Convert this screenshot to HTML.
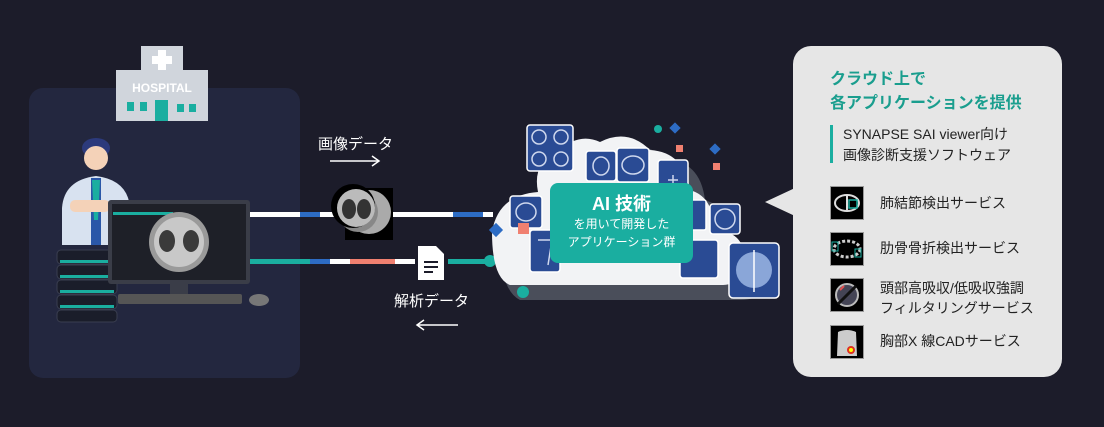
<!DOCTYPE html>
<html><head><meta charset="utf-8"><style>
body{margin:0;width:1104px;height:427px;background:#1c1c2a;overflow:hidden;position:relative;font-family:"Liberation Sans","Noto Sans CJK JP",sans-serif}
.a{position:absolute}
.t{color:#fff;font-size:15px;white-space:nowrap}
.li{position:absolute;left:880px;color:#222;font-size:14px;line-height:20px;white-space:nowrap}
</style></head><body>
<div class="a" style="left:29px;top:88px;width:271px;height:290px;background:#23273f;border-radius:14px"></div>
<svg class="a" style="left:0;top:0" width="1104" height="427">
<!-- hospital -->
<rect x="141" y="46" width="42" height="30" fill="#d0d5dc"/>
<rect x="116" y="70" width="92" height="51" fill="#d0d5dc"/>
<rect x="158" y="50" width="8" height="20" fill="#fff"/><rect x="152" y="56" width="20" height="8" fill="#fff"/>
<text x="162" y="92" font-size="12" font-weight="bold" fill="#fff" text-anchor="middle" font-family="Liberation Sans">HOSPITAL</text>
<rect x="127" y="102" width="7" height="9" fill="#1aaea0"/><rect x="140" y="102" width="7" height="9" fill="#1aaea0"/>
<rect x="155" y="100" width="13" height="21" fill="#1aaea0"/>
<rect x="177" y="104" width="7" height="8" fill="#1aaea0"/><rect x="189" y="104" width="7" height="8" fill="#1aaea0"/>
<!-- doctor -->
<ellipse cx="96" cy="148" rx="14" ry="10" fill="#2c3a7c"/>
<circle cx="96" cy="158" r="12" fill="#f4d2b8"/>
<path d="M62 208 Q64 180 96 176 Q128 180 130 208 L130 245 L62 245 Z" fill="#d8e2f0"/>
<rect x="91" y="178" width="10" height="67" fill="#2a57a8"/>
<path d="M92 180 L100 180 L98 220 L94 220 Z" fill="#1aaea0"/>
<rect x="70" y="200" width="40" height="12" rx="5" fill="#f4d2b8"/>
<!-- server -->
<g fill="#1a1d2a" stroke="#3a3e50">
<rect x="57" y="250" width="60" height="14" rx="4"/><rect x="57" y="265" width="60" height="14" rx="4"/>
<rect x="57" y="280" width="60" height="14" rx="4"/><rect x="57" y="295" width="60" height="14" rx="4"/><rect x="57" y="310" width="60" height="12" rx="4"/>
</g>
<g fill="#1aaea0"><rect x="60" y="260" width="54" height="3"/><rect x="60" y="275" width="54" height="3"/><rect x="60" y="290" width="54" height="3"/><rect x="60" y="305" width="54" height="3"/></g>
<!-- monitor -->
<rect x="108" y="200" width="142" height="84" rx="3" fill="#3a3d48"/>
<rect x="112" y="204" width="134" height="76" fill="#1e2028"/>
<rect x="113" y="212" width="60" height="3" fill="#1aaea0"/>
<circle cx="179" cy="242" r="30" fill="#9a9a9a"/><circle cx="179" cy="242" r="25" fill="#c8c8c8"/>
<ellipse cx="167" cy="241" rx="8" ry="11" fill="#3a3a3a"/><ellipse cx="191" cy="241" rx="8" ry="11" fill="#3a3a3a"/>
<rect x="170" y="284" width="18" height="10" fill="#3a3d48"/>
<rect x="118" y="294" width="124" height="10" rx="2" fill="#555"/>
<ellipse cx="259" cy="300" rx="10" ry="6" fill="#777"/>
<!-- lines -->
<rect x="250" y="212" width="50" height="5" fill="#fff"/><rect x="300" y="212" width="20" height="5" fill="#2d6cc4"/><rect x="320" y="212" width="15" height="5" fill="#fff"/>
<rect x="393" y="212" width="60" height="5" fill="#fff"/><rect x="453" y="212" width="30" height="5" fill="#2d6cc4"/><rect x="483" y="212" width="10" height="5" fill="#fff"/>
<rect x="250" y="259" width="60" height="5" fill="#1aaea0"/><rect x="310" y="259" width="20" height="5" fill="#2d6cc4"/><rect x="330" y="259" width="20" height="5" fill="#fff"/><rect x="350" y="259" width="45" height="5" fill="#f08070"/>
<rect x="395" y="259" width="20" height="5" fill="#fff"/><rect x="448" y="259" width="40" height="5" fill="#1aaea0"/>
<circle cx="490" cy="261" r="6" fill="#1aaea0"/>
<!-- CT images -->
<rect x="345" y="188" width="48" height="52" fill="#000"/>
<circle cx="369" cy="212" r="22" fill="#aaa"/><circle cx="358" cy="212" r="20" fill="#888"/>
<circle cx="353" cy="206" r="22" fill="#000"/><circle cx="356" cy="208" r="19" fill="#bbb"/>
<ellipse cx="349" cy="209" rx="7" ry="10" fill="#333"/><ellipse cx="364" cy="209" rx="7" ry="10" fill="#333"/>
<!-- arrows -->
<line x1="330" y1="161" x2="378" y2="161" stroke="#fff" stroke-width="1.5"/><path d="M372 156 L379 161 L372 166" stroke="#fff" fill="none" stroke-width="1.5"/>
<line x1="418" y1="325" x2="458" y2="325" stroke="#fff" stroke-width="1.5"/><path d="M424 320 L417 325 L424 330" stroke="#fff" fill="none" stroke-width="1.5"/>
<!-- doc -->
<path d="M418 246 L436 246 L444 254 L444 280 L418 280 Z" fill="#fff"/>
<rect x="424" y="261" width="14" height="2" fill="#1c1c2a"/><rect x="424" y="266" width="14" height="2" fill="#1c1c2a"/><rect x="424" y="271" width="9" height="2" fill="#1c1c2a"/>
<!-- cloud -->
<path d="M520 300 L740 300 Q770 300 765 270 Q760 240 730 245 Q735 210 705 200 Q700 160 665 160 Q640 135 610 150 Q585 140 565 160 Q540 170 545 200 Q505 200 500 240 Q500 290 520 300 Z" fill="#4a4e5a"/>
<path d="M510 285 L720 285 Q750 285 745 255 Q740 228 712 232 Q716 198 690 190 Q684 152 650 150 Q628 128 600 142 Q578 132 558 152 Q532 162 538 192 Q498 195 492 232 Q492 278 510 285 Z" fill="#f2f3f5"/>
<g fill="#2a4b94" stroke="#fff" stroke-width="1.5">
<rect x="527" y="125" width="46" height="46" rx="3"/><rect x="586" y="151" width="30" height="30" rx="3"/><rect x="617" y="148" width="32" height="34" rx="3"/><rect x="658" y="160" width="30" height="32" rx="3"/>
<rect x="510" y="196" width="32" height="32" rx="3"/><rect x="530" y="230" width="30" height="42" rx="3"/><rect x="710" y="204" width="30" height="30" rx="3"/><rect x="690" y="200" width="16" height="30" rx="2"/>
<rect x="680" y="240" width="38" height="38" rx="3"/><rect x="729" y="243" width="50" height="55" rx="4"/>
</g>
<g stroke="#cfd8ee" stroke-width="1.5" fill="none">
<circle cx="539" cy="137" r="7"/><circle cx="561" cy="137" r="7"/><circle cx="539" cy="159" r="7"/><circle cx="561" cy="159" r="7"/>
<path d="M668 180 L678 180 M673 175 L673 186"/>
<ellipse cx="601" cy="166" rx="8" ry="9"/><ellipse cx="633" cy="165" rx="11" ry="9"/><ellipse cx="526" cy="212" rx="10" ry="9"/><ellipse cx="725" cy="219" rx="10" ry="10"/><path d="M538 240 L552 240 L548 265"/>
</g>
<circle cx="754" cy="270" r="18" fill="#8aa6d8"/><line x1="754" y1="250" x2="754" y2="292" stroke="#fff" stroke-width="1.5"/>
<rect x="550" y="183" width="143" height="80" rx="8" fill="#1aaea0"/>
<circle cx="658" cy="129" r="4" fill="#1aaea0"/><rect x="671" y="124" width="8" height="8" fill="#2d6cc4" transform="rotate(45 675 128)"/>
<rect x="676" y="145" width="7" height="7" fill="#f08070"/><rect x="711" y="145" width="8" height="8" fill="#2d6cc4" transform="rotate(45 715 149)"/>
<rect x="713" y="163" width="7" height="7" fill="#f08070"/><rect x="518" y="223" width="11" height="11" fill="#f08070"/>
<rect x="491" y="225" width="10" height="10" fill="#2d6cc4" transform="rotate(45 496 230)"/>
<circle cx="523" cy="292" r="6" fill="#1aaea0"/>
</svg>
<div class="a t" style="left:318px;top:133px">画像データ</div>
<div class="a t" style="left:394px;top:290px">解析データ</div>
<div class="a" style="left:550px;top:190px;width:143px;text-align:center;color:#fff;font-size:18px;font-weight:bold">AI 技術</div>
<div class="a" style="left:550px;top:215px;width:143px;text-align:center;color:#fff;font-size:12px;line-height:18px">を用いて開発した<br>アプリケーション群</div>
<!-- right panel -->
<div class="a" style="left:765px;top:188px;width:0;height:0;border-top:14px solid transparent;border-bottom:14px solid transparent;border-right:30px solid #e6e6e6"></div>
<div class="a" style="left:793px;top:46px;width:269px;height:331px;background:#e6e6e6;border-radius:18px"></div>
<div class="a" style="left:830px;top:68px;color:#1a9e8e;font-size:16px;font-weight:bold;line-height:24px;white-space:nowrap">クラウド上で<br>各アプリケーションを提供</div>
<div class="a" style="left:830px;top:125px;width:3px;height:38px;background:#1aaea0"></div>
<div class="a" style="left:843px;top:124px;color:#222;font-size:14px;line-height:21px;white-space:nowrap">SYNAPSE SAI viewer向け<br>画像診断支援ソフトウェア</div>
<svg class="a" style="left:830px;top:186px" width="34" height="174">
<g fill="#000" stroke="#999"><rect x="0.5" y="0.5" width="33" height="33"/><rect x="0.5" y="46.5" width="33" height="33"/><rect x="0.5" y="92.5" width="33" height="33"/><rect x="0.5" y="139.5" width="33" height="33"/></g>
<ellipse cx="17" cy="17" rx="12" ry="8" fill="none" stroke="#ddd" stroke-width="2"/><line x1="17" y1="9" x2="17" y2="25" stroke="#ddd" stroke-width="2"/><rect x="19" y="14" width="8" height="8" fill="none" stroke="#1aaea0" stroke-width="1.5"/>
<ellipse cx="17" cy="63" rx="13" ry="8" fill="none" stroke="#ccc" stroke-width="3" stroke-dasharray="3 2"/><rect x="2" y="56" width="6" height="9" fill="none" stroke="#1aaea0"/><rect x="25" y="63" width="6" height="8" fill="none" stroke="#1aaea0"/>
<circle cx="17" cy="109" r="11" fill="#445" stroke="#bbb" stroke-width="2"/><line x1="8" y1="118" x2="26" y2="100" stroke="#111" stroke-width="3"/><path d="M10 104 L14 100" stroke="#e05050" stroke-width="2"/>
<path d="M8 146 Q17 142 26 146 L27 170 L7 170 Z" fill="#ccc"/><circle cx="21" cy="164" r="4" fill="#e03020"/><circle cx="21" cy="164" r="2" fill="#ff0"/>
</svg>
<div class="li" style="top:193px">肺結節検出サービス</div>
<div class="li" style="top:238px">肋骨骨折検出サービス</div>
<div class="li" style="top:278px">頭部高吸収/低吸収強調<br>フィルタリングサービス</div>
<div class="li" style="top:331px">胸部X 線CADサービス</div>
</body></html>
